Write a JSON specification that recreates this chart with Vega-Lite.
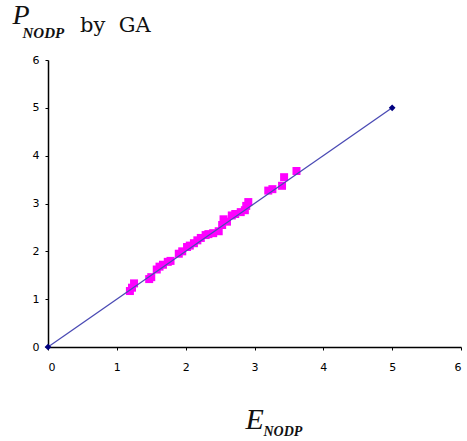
{
  "$schema": "https://vega.github.io/schema/vega-lite/v6.json",
  "width": 413,
  "height": 287,
  "autosize": {"type": "none"},
  "padding": {"left": 48, "top": 60, "right": 6, "bottom": 94},
  "background": "white",
  "config": {"view": {"stroke": null}},
  "title": {
    "text": "by\u00a0\u00a0GA",
    "anchor": "start",
    "frame": "group",
    "font": "DejaVu Serif",
    "fontSize": 21,
    "fontWeight": "normal",
    "color": "#111111",
    "baseline": "alphabetic",
    "offset": 0,
    "dy": 52,
    "dx": 32
  },
  "resolve": {"axis": {"x": "independent", "y": "independent"}},
  "layer": [
    {
      "data": {"values": [
        {"E": 1.19, "P": 1.17}, {"E": 1.22, "P": 1.24}, {"E": 1.25, "P": 1.33},
        {"E": 1.47, "P": 1.42}, {"E": 1.50, "P": 1.46}, {"E": 1.58, "P": 1.62},
        {"E": 1.62, "P": 1.68}, {"E": 1.67, "P": 1.72}, {"E": 1.74, "P": 1.78},
        {"E": 1.78, "P": 1.80}, {"E": 1.90, "P": 1.95}, {"E": 1.95, "P": 2.00},
        {"E": 2.02, "P": 2.09}, {"E": 2.06, "P": 2.12}, {"E": 2.12, "P": 2.17},
        {"E": 2.17, "P": 2.23}, {"E": 2.22, "P": 2.28}, {"E": 2.29, "P": 2.34},
        {"E": 2.33, "P": 2.36}, {"E": 2.40, "P": 2.38}, {"E": 2.48, "P": 2.42},
        {"E": 2.53, "P": 2.55}, {"E": 2.55, "P": 2.67}, {"E": 2.60, "P": 2.62},
        {"E": 2.67, "P": 2.75}, {"E": 2.72, "P": 2.78}, {"E": 2.80, "P": 2.82},
        {"E": 2.86, "P": 2.86}, {"E": 2.88, "P": 2.95}, {"E": 2.91, "P": 3.03},
        {"E": 3.20, "P": 3.27}, {"E": 3.26, "P": 3.30}, {"E": 3.40, "P": 3.37},
        {"E": 3.43, "P": 3.55}, {"E": 3.61, "P": 3.68}
      ]},
      "mark": {"type": "square", "filled": true, "color": "#ff00ff", "opacity": 1, "size": 64},
      "encoding": {
        "x": {"field": "E", "type": "quantitative",
          "scale": {"domain": [0, 6], "nice": false, "zero": true},
          "axis": {
            "orient": "bottom",
            "values": [0, 1, 2, 3, 4, 5, 6], "grid": false,
            "domainColor": "#000000", "domainWidth": 1.5,
            "tickColor": "#000000", "tickSize": 3, "tickWidth": 1,
            "labelFont": "DejaVu Sans", "labelFontSize": 11, "labelColor": "#000000", "labelPadding": 11,
            "title": "E", "titleFont": "Liberation Serif", "titleFontStyle": "italic", "titleFontWeight": "normal",
            "titleFontSize": 30, "titleColor": "#111111", "titleAngle": 0,
            "titleAlign": "left", "titleBaseline": "alphabetic", "titleX": 197, "titleY": 81
          }},
        "y": {"field": "P", "type": "quantitative",
          "scale": {"domain": [0, 6], "nice": false, "zero": true},
          "axis": {
            "orient": "left",
            "values": [0, 1, 2, 3, 4, 5, 6], "grid": false,
            "domainColor": "#000000", "domainWidth": 1.5,
            "tickColor": "#000000", "tickSize": 3, "tickWidth": 1,
            "labelFont": "DejaVu Sans", "labelFontSize": 11, "labelColor": "#000000", "labelPadding": 6,
            "title": "P", "titleFont": "Liberation Serif", "titleFontStyle": "italic", "titleFontWeight": "normal",
            "titleFontSize": 28, "titleColor": "#111111", "titleAngle": 0,
            "titleAlign": "left", "titleBaseline": "alphabetic", "titleX": -36, "titleY": -37
          }}
      }
    },
    {
      "data": {"values": [{"E": 0, "P": 0}, {"E": 5, "P": 5}]},
      "mark": {"type": "line", "color": "#4a4ab4", "strokeWidth": 1.3,
        "point": {"shape": "diamond", "filled": true, "color": "#000080", "size": 45}},
      "encoding": {
        "x": {"field": "E", "type": "quantitative",
          "axis": {
            "orient": "bottom",
            "domain": false, "ticks": false, "labels": false, "grid": false,
            "title": "NODP", "titleFont": "Liberation Serif", "titleFontStyle": "italic", "titleFontWeight": "bold",
            "titleFontSize": 14, "titleColor": "#111111", "titleAngle": 0,
            "titleAlign": "left", "titleBaseline": "alphabetic", "titleX": 215, "titleY": 88
          }},
        "y": {"field": "P", "type": "quantitative",
          "axis": {
            "orient": "left",
            "domain": false, "ticks": false, "labels": false, "grid": false,
            "title": "NODP", "titleFont": "Liberation Serif", "titleFontStyle": "italic", "titleFontWeight": "bold",
            "titleFontSize": 15, "titleColor": "#111111", "titleAngle": 0,
            "titleAlign": "left", "titleBaseline": "alphabetic", "titleX": -26, "titleY": -23
          }}
      }
    }
  ]
}
